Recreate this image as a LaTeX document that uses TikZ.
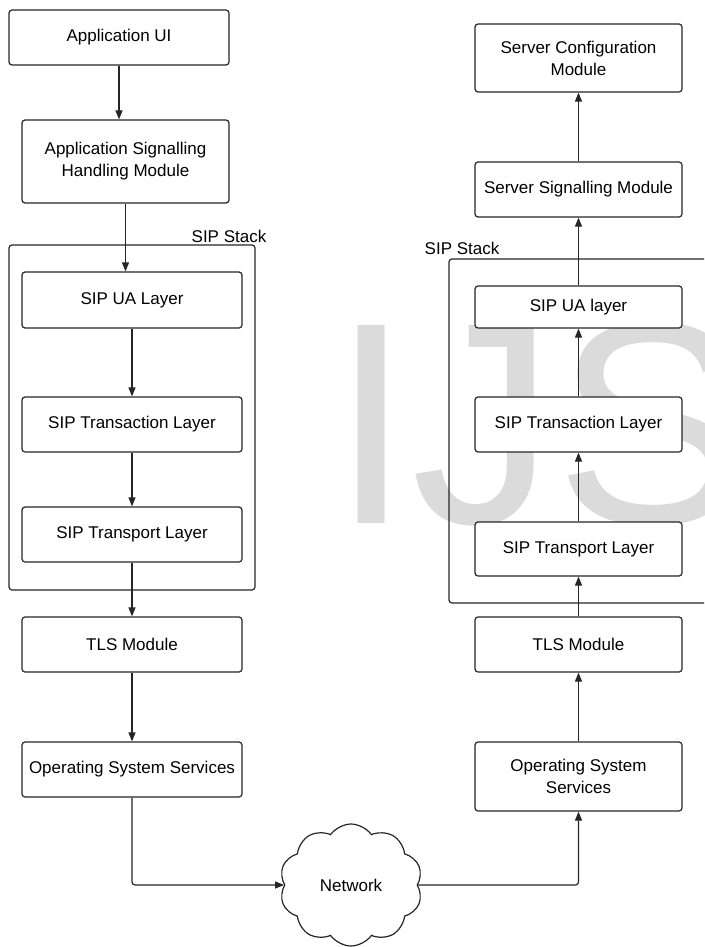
\documentclass[tikz,border=0pt]{standalone}
\usepackage{fontspec}
\setmainfont{Liberation Sans}
\usetikzlibrary{arrows.meta,shapes.symbols}
\tikzset{
  box/.style={draw=black!85, line width=1.2pt, rounded corners=3pt, fill=white, align=center, inner sep=2pt},
  stackbox/.style={draw=black!85, line width=1.2pt, rounded corners=3pt},
  conn/.style={draw=black!85, line width=1.2pt, -{Triangle[length=9pt,width=7pt]}},
  lbl/.style={inner sep=0pt}
}
\begin{document}
\begin{tikzpicture}[x=1pt,y=-1pt,font=\fontsize{17}{22}\selectfont]
\path[use as bounding box] (0,0) rectangle (704,947);
\clip (0,0) rectangle (704,947);
\fill[white] (0,0) rectangle (704,947);
% watermark
\node[anchor=base west, inner sep=0pt, text=black!14, font=\fontsize{288}{288}\selectfont] (wm) at (331,523) {IJS};
% left column
\node[box, minimum width=220pt, minimum height=55pt] (appui) at (119,37.5) {Application UI};
\node[box, minimum width=207pt, minimum height=83pt] (ash) at (125.5,161.5) {Application Signalling\\Handling Module};
\draw[stackbox] (9,245) coordinate (lstacktl) rectangle (255,590) coordinate (lstackbr);
\node[lbl] (lstack) at (229,236) {SIP Stack};
\node[box, minimum width=220pt, minimum height=56pt] (sua) at (132,300) {SIP UA Layer};
\node[box, minimum width=220pt, minimum height=55pt] (stl) at (132,424.5) {SIP Transaction Layer};
\node[box, minimum width=220pt, minimum height=55pt] (stp) at (132,534.5) {SIP Transport Layer};
\node[box, minimum width=220pt, minimum height=55pt] (tls) at (132,644.5) {TLS Module};
\node[box, minimum width=220pt, minimum height=55pt] (oss) at (132,769.5) {Operating System Services};
% right column
\node[box, minimum width=207pt, minimum height=68pt] (scm) at (578.5,58) {Server Configuration\\Module};
\node[box, minimum width=207pt, minimum height=55pt] (ssm) at (578.5,189.5) {Server Signalling Module};
\draw[stackbox] (449,259) coordinate (rstacktl) rectangle (715,603) coordinate (rstackbr);
\node[lbl] (rstack) at (462,248) {SIP Stack};
\node[box, minimum width=207pt, minimum height=42pt] (rsua) at (578.5,307) {SIP UA layer};
\node[box, minimum width=207pt, minimum height=55pt] (rstl) at (578.5,424.5) {SIP Transaction Layer};
\node[box, minimum width=207pt, minimum height=54pt] (rstp) at (578.5,549) {SIP Transport Layer};
\node[box, minimum width=207pt, minimum height=55pt] (rtls) at (578.5,644.5) {TLS Module};
\node[box, minimum width=207pt, minimum height=69pt] (ross) at (578.5,776.5) {Operating System\\Services};
% network
\node[cloud, draw=black!85, line width=1.2pt, fill=white, cloud puffs=10, cloud puff arc=110, aspect=1.15, minimum width=143pt, minimum height=122pt, inner sep=0pt] (net) at (351,885) {Network};
% connectors left
\draw[conn] (appui.south) -- (appui.south |- ash.north);
\draw[conn] (ash.south) -- (ash.south |- sua.north);
\draw[conn] (sua) -- (stl);
\draw[conn] (stl) -- (stp);
\draw[conn] (stp) -- (tls);
\draw[conn] (tls) -- (oss);
\draw[conn, rounded corners=3pt] (oss.south) |- (net.west);
% connectors right
\draw[conn, rounded corners=3pt] (net.east) -| (ross.south);
\draw[conn] (ross) -- (rtls);
\draw[conn] (rtls) -- (rstp);
\draw[conn] (rstp) -- (rstl);
\draw[conn] (rstl) -- (rsua);
\draw[conn] (rsua) -- (ssm);
\draw[conn] (ssm) -- (scm);
\end{tikzpicture}
\end{document}
